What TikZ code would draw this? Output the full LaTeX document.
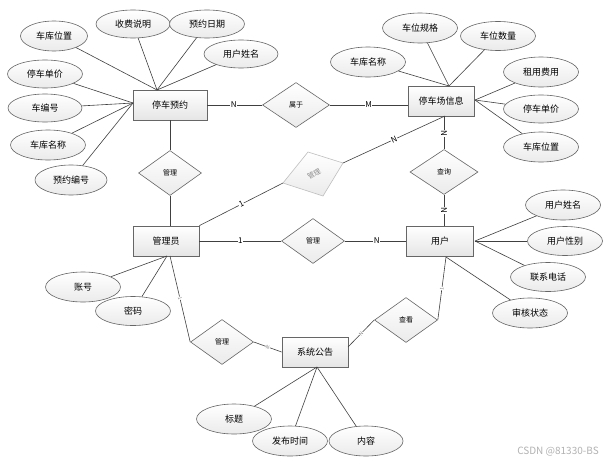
\documentclass[tikz,border=0pt]{standalone}
\usepackage{fontspec}
\setmainfont{Noto Sans CJK SC}
\usetikzlibrary{shapes.geometric}
\begin{document}
\begin{tikzpicture}[x=1pt,y=-1pt,
  ent/.style={draw=black!60, line width=0.8pt, top color=white, bottom color=black!10, minimum width=66pt, minimum height=30pt, inner sep=0pt, font=\fontsize{9}{10}\selectfont},
  attr/.style={ellipse, draw=black!60, line width=0.6pt, top color=white, bottom color=black!8, minimum width=75pt, minimum height=29pt, inner sep=0pt, font=\fontsize{9}{10}\selectfont},
  rel/.style={diamond, draw=black!60, line width=0.6pt, top color=white, bottom color=black!8, minimum width=63pt, minimum height=45pt, inner sep=0pt, font=\fontsize{7}{8}\selectfont},
  conn/.style={draw=black!75, line width=0.6pt},
  card/.style={fill=white, inner sep=0.5pt, font=\fontsize{8}{9}\selectfont},
  tinycard/.style={fill=white, inner sep=0.3pt, font=\fontsize{5}{5}\selectfont, text=black!50}
]
\fill[white] (0,0) rectangle (613,463);
\useasboundingbox (0,0) rectangle (613,463);

% entities
\node[ent, minimum width=74pt] (yy) at (170,105) {停车预约};
\node[ent] (cc) at (441,101) {停车场信息};
\node[ent] (gly) at (166,241) {管理员};
\node[ent, minimum width=67pt] (yh) at (440,241) {用户};
\node[ent] (gg) at (315,352) {系统公告};

% relations
\node[rel, minimum width=67pt] (r1) at (296,105) {属于};
\node[rel] (r2) at (170,173) {管理};
\node[rel, minimum width=68pt] (r3) at (444,172) {查询};
\node[rel] (r4) at (313,241) {管理};
\node[rel] (r5) at (222,342) {管理};
\node[rel] (r6) at (406,320) {查看};

% grey skewed diamond
\coordinate (g1) at (308,152);
\coordinate (g2) at (343,163);
\coordinate (g3) at (323,196);
\coordinate (g4) at (283,183);
\path[draw=black!25, line width=0.6pt, top color=white, bottom color=black!8] (g1)--(g2)--(g3)--(g4)--cycle;
\node[rotate=30, font=\fontsize{7}{8}\selectfont, text=black!45, inner sep=0pt] (gt) at (314,174) {管理};

% attributes of 停车预约
\node[attr, minimum width=67pt, minimum height=30pt] (a1) at (54,36) {车库位置};
\node[attr, minimum width=74pt, minimum height=28pt] (a2) at (133,24) {收费说明};
\node[attr, minimum height=28pt] (a3) at (207,24) {预约日期};
\node[attr, minimum width=74pt, minimum height=28pt] (a4) at (241,54) {用户姓名};
\node[attr, minimum height=28pt] (a5) at (45,74) {停车单价};
\node[attr, minimum width=74pt, minimum height=28pt] (a6) at (45,108) {车编号};
\node[attr, minimum height=30pt] (a7) at (48,145) {车库名称};
\node[attr, minimum width=72pt, minimum height=30pt] (a8) at (71,180) {预约编号};
\coordinate (p1) at (157,90);
\coordinate (p2) at (133,103);
\foreach \a in {a1,a2,a3,a4} \draw[conn] (\a) -- (p1);
\foreach \a in {a5,a6,a7,a8} \draw[conn] (\a) -- (p2);

% attributes of 停车场信息
\node[attr, minimum height=30pt] (b1) at (420,28) {车位规格};
\node[attr] (b2) at (498,36) {车位数量};
\node[attr, minimum height=30pt] (b3) at (368,62) {车库名称};
\node[attr, minimum height=30pt] (b4) at (541,72) {租用费用};
\node[attr, minimum height=28pt] (b5) at (541,109) {停车单价};
\node[attr, minimum height=30pt] (b6) at (541,147) {车库位置};
\coordinate (q1) at (449,86);
\coordinate (q2) at (475,100);
\foreach \a in {b1,b2,b3} \draw[conn] (\a) -- (q1);
\foreach \a in {b4,b5,b6} \draw[conn] (\a) -- (q2);

% attributes of 用户
\node[attr, minimum height=30pt] (c1) at (563,205) {用户姓名};
\node[attr] (c2) at (565,241) {用户性别};
\node[attr] (c3) at (548,277) {联系电话};
\node[attr, minimum height=30pt] (c4) at (530,313) {审核状态};
\coordinate (s1) at (475,241);
\coordinate (s2) at (446,257);
\foreach \a in {c1,c2,c3} \draw[conn] (\a) -- (s1);
\draw[conn] (c4) -- (s2);

% attributes of 管理员
\node[attr, minimum height=30pt] (d1) at (83,287) {账号};
\node[attr] (d2) at (133,311) {密码};
\coordinate (t1) at (167,256);
\draw[conn] (d1) -- (t1);
\draw[conn] (d2) -- (t1);

% attributes of 系统公告
\node[attr, minimum height=30pt] (e1) at (234,419) {标题};
\node[attr, minimum height=30pt] (e2) at (290,441) {发布时间};
\node[attr, minimum width=74pt, minimum height=30pt] (e3) at (366,441) {内容};
\coordinate (u1) at (317,367);
\foreach \a in {e1,e2,e3} \draw[conn] (\a) -- (u1);

% relationships
\draw[conn] (yy.east) -- node[card, pos=0.48] {N} (r1.west);
\draw[conn] (r1.east) -- node[card, pos=0.5] {M} (r1.east -| cc.west);
\draw[conn] (yy.south) -- (r2.north);
\draw[conn] (r2.south) -- (r2.south |- gly.north);
\draw[conn] (r3.north |- cc.south) -- node[card, sloped, pos=0.53] {N} (r3.north);
\draw[conn] (r3.south) -- node[card, sloped, pos=0.5] {N} (r3.south |- yh.north);
\draw[conn] (gly.east) -- node[card, pos=0.5] {1} (r4.west);
\draw[conn] (r4.east) -- node[card, pos=0.52] {N} (yh.west);
\draw[conn] (gly.north east) -- node[card, sloped, pos=0.5] {1} (g4);
\coordinate (cs) at (445,116);
\draw[conn] (g2) -- node[card, sloped, pos=0.5] {N} (cs);
\coordinate (t2) at (170,256);
\draw[conn] (t2) -- node[tinycard, sloped, pos=0.49] {1} (r5.west);
\draw[conn] (r5.east) -- node[tinycard, sloped, pos=0.5] {N} (gg.west);
\coordinate (gr) at (348,347);
\draw[conn] (gr) -- node[tinycard, sloped, pos=0.5] {N} (r6.west);
\draw[conn] (r6.east) -- node[tinycard, sloped, pos=0.5] {1} (s2);

% watermark
\node[text=black!30, font=\fontsize{10}{11}\selectfont, inner sep=0pt] (wm) at (558,452) {CSDN @81330-BS};
\end{tikzpicture}
\end{document}
